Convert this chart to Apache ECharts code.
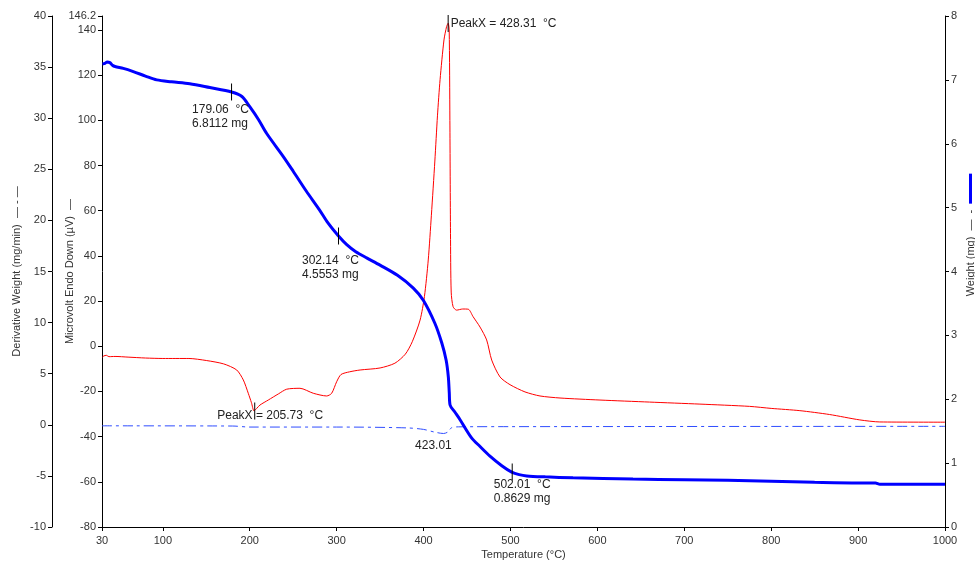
<!DOCTYPE html>
<html>
<head>
<meta charset="utf-8">
<script src="https://cdn.jsdelivr.net/npm/echarts@6/dist/echarts.min.js"></script>
<style>
  html, body { margin: 0; padding: 0; background: #fff; }
  #chart { width: 975px; height: 561px; }
</style>
</head>
<body>
<div id="chart"></div>
<script>
// temperature ticks (x) and microvolt ticks
var tempTicks = [30, 100, 200, 300, 400, 500, 600, 700, 800, 900, 1000];
var uvTicks = [-80, -60, -40, -20, 0, 20, 40, 60, 80, 100, 120, 140, 146.2];

// weight curve (mg)
var weightTemp = [30.5, 33.5, 36, 39, 42, 45, 54.5, 66, 80, 93, 110, 131, 154, 179.06, 191, 200, 210, 219.5, 238.6, 250, 265, 280, 290, 302.14, 311.6, 322, 335, 349.9, 370, 388.2, 399.7, 413, 421, 426, 428.5, 429.6, 430.5, 436, 442, 455, 465, 476.4, 490, 501.4, 510, 518.7, 540, 572, 641, 700, 750, 800, 850, 900, 920, 925, 1000];
var weightMg = [7.25, 7.26, 7.28, 7.27, 7.23, 7.21, 7.18, 7.13, 7.06, 7.00, 6.97, 6.94, 6.88, 6.8112, 6.74, 6.58, 6.38, 6.16, 5.80, 5.57, 5.26, 4.97, 4.76, 4.5553, 4.42, 4.31, 4.21, 4.10, 3.94, 3.74, 3.55, 3.19, 2.88, 2.61, 2.35, 2.10, 1.91, 1.80, 1.68, 1.40, 1.26, 1.11, 0.96, 0.86, 0.82, 0.80, 0.785, 0.77, 0.75, 0.74, 0.73, 0.715, 0.70, 0.69, 0.69, 0.67, 0.67];

// heat flow curve (µV)
var heatTemp = [30.5, 32, 35, 38, 45, 60, 80, 100, 130, 150, 170, 185, 192.6, 198.3, 202, 204.9, 208, 211.8, 221.3, 232.9, 242.5, 257.8, 273.1, 288.5, 294.3, 300, 305, 315, 327, 350, 367, 379, 387, 396, 401, 405.4, 409, 413, 416, 419, 423.5, 426.5, 428.31, 429.5, 430.3, 431, 431.8, 434, 438, 445, 451.5, 457, 465, 472.6, 478.4, 488, 499.5, 516.7, 534, 557, 603, 660, 718, 775, 800, 833, 867, 902, 925, 1000];
var heatUv = [-4.8, -4.3, -4.0, -4.6, -4.5, -4.8, -5.2, -5.4, -5.4, -6.3, -7.8, -10.5, -14.9, -20.8, -25, -28.6, -27.5, -26, -23.8, -21.1, -19.0, -18.6, -20.8, -22, -20.8, -15.7, -12.5, -11.3, -10.5, -9.6, -7.5, -3.5, 2.0, 11.6, 22, 38.2, 58, 82, 102, 118, 135.6, 141.5, 143, 140, 100, 50, 24, 17.5, 16, 16.5, 16.4, 13.1, 8.5, 2.8, -6.1, -13.6, -17, -20.2, -22, -22.9, -23.8, -24.7, -25.6, -26.6, -27.5, -28.5, -30.2, -32.6, -33.5, -33.6];

// derivative weight (mg/min)
var derivTemp = [30, 180, 200, 300, 380, 400, 412, 423.01, 428, 432, 440, 500, 1000];
var derivRate = [-0.1, -0.12, -0.22, -0.22, -0.3, -0.45, -0.7, -0.85, -0.7, -0.3, -0.2, -0.18, -0.15];

function zip(a, b) { return a.map(function (v, i) { return [v, b[i]]; }); }

var FONT = "'Liberation Sans', Arial, sans-serif";
var labelStyle = { color: '#333', fontSize: 11, fontFamily: FONT };
var noteStyle = { color: '#222', fontSize: 12, fontFamily: FONT, lineHeight: 14, align: 'left', verticalAlign: 'top' };

function tickMark(coord, text, offset) {
  return {
    coord: coord,
    symbol: 'rect',
    symbolSize: [1, 17],
    itemStyle: { color: '#000' },
    label: Object.assign({ show: true, formatter: text, position: offset }, noteStyle)
  };
}

function yAxisBase(extra) {
  return Object.assign({
    type: 'value',
    nameLocation: 'middle',
    nameMoveOverlap: false,
    nameTextStyle: { color: '#333', fontSize: 11, fontFamily: FONT },
    axisLine: { show: true, onZero: false, lineStyle: { color: '#000', width: 1 } },
    axisTick: { show: true, inside: false, length: 4, lineStyle: { color: '#000' } },
    axisLabel: Object.assign({ margin: 6 }, labelStyle),
    splitLine: { show: false }
  }, extra);
}

var chart = echarts.init(document.getElementById('chart'));
chart.setOption({
  animation: false,
  backgroundColor: '#fff',
  grid: { left: 102, right: 30, top: 16, bottom: 34, containLabel: false, outerBoundsMode: 'none' },
  xAxis: {
    type: 'value',
    min: 30,
    max: 1000,
    name: 'Temperature (°C)',
    nameLocation: 'middle',
    nameGap: 22,
    nameMoveOverlap: false,
    nameTextStyle: { color: '#333', fontSize: 11, fontFamily: FONT },
    axisLine: { show: true, onZero: false, lineStyle: { color: '#000', width: 1 } },
    axisTick: { show: true, length: 4, customValues: tempTicks, lineStyle: { color: '#000' } },
    axisLabel: Object.assign({
      margin: 8,
      customValues: tempTicks,
      formatter: function (v) { return String(v); }
    }, labelStyle),
    splitLine: { show: false }
  },
  yAxis: [
    yAxisBase({
      position: 'left',
      offset: 50,
      min: -10,
      max: 40,
      interval: 5,
      name: 'Derivative Weight (mg/min)  — - —',
      nameGap: 30
    }),
    yAxisBase({
      position: 'left',
      min: -80,
      max: 146.2,
      name: 'Microvolt Endo Down (µV)  —',
      nameGap: 27,
      axisTick: { show: true, length: 4, customValues: uvTicks, lineStyle: { color: '#000' } },
      axisLabel: Object.assign({ margin: 6, customValues: uvTicks }, labelStyle)
    }),
    yAxisBase({
      position: 'right',
      min: 0,
      max: 8,
      interval: 1,
      name: 'Weight (mg)  —  -  {b| }',
      nameGap: 20,
      nameTextStyle: {
        color: '#333', fontSize: 11, fontFamily: FONT, padding: [0, 0, 0, 73],
        rich: { b: { width: 30, height: 3, backgroundColor: '#0000ff' } }
      }
    })
  ],
  series: [
    {
      name: 'Heat Flow',
      type: 'line',
      yAxisIndex: 1,
      data: zip(heatTemp, heatUv),
      showSymbol: false,
      smooth: 0.25,
      lineStyle: { color: '#ff0000', width: 1 },
      itemStyle: { color: '#ff0000' },
      markPoint: {
        silent: true,
        data: [
          tickMark([428.31, 142.9], 'PeakX = 428.31  °C', [3, 2]),
          tickMark([205.73, -28.6], 'PeakX = 205.73  °C', [-37, 6])
        ]
      }
    },
    {
      name: 'Derivative Weight',
      type: 'line',
      yAxisIndex: 0,
      data: zip(derivTemp, derivRate),
      showSymbol: false,
      smooth: 0.3,
      lineStyle: { color: '#2f4dff', width: 1, type: [10, 4, 3, 4] },
      itemStyle: { color: '#2f4dff' },
      markPoint: {
        silent: true,
        data: [{
          coord: [423.01, -0.85],
          symbol: 'rect',
          symbolSize: [1, 1],
          itemStyle: { color: 'rgba(0,0,0,0)' },
          label: Object.assign({ show: true, formatter: '423.01', position: [-28, 6] }, noteStyle)
        }]
      }
    },
    {
      name: 'Weight',
      type: 'line',
      yAxisIndex: 2,
      data: zip(weightTemp, weightMg),
      showSymbol: false,
      smooth: 0.3,
      lineStyle: { color: '#0000ff', width: 3 },
      itemStyle: { color: '#0000ff' },
      markPoint: {
        silent: true,
        data: [
          tickMark([179.06, 6.8112], '179.06  °C\n6.8112 mg', [-39, 19]),
          tickMark([302.14, 4.5553], '302.14  °C\n4.5553 mg', [-36, 26]),
          tickMark([502.01, 0.8629], '502.01  °C\n0.8629 mg', [-18, 14])
        ]
      }
    }
  ]
});
</script>
</body>
</html>
